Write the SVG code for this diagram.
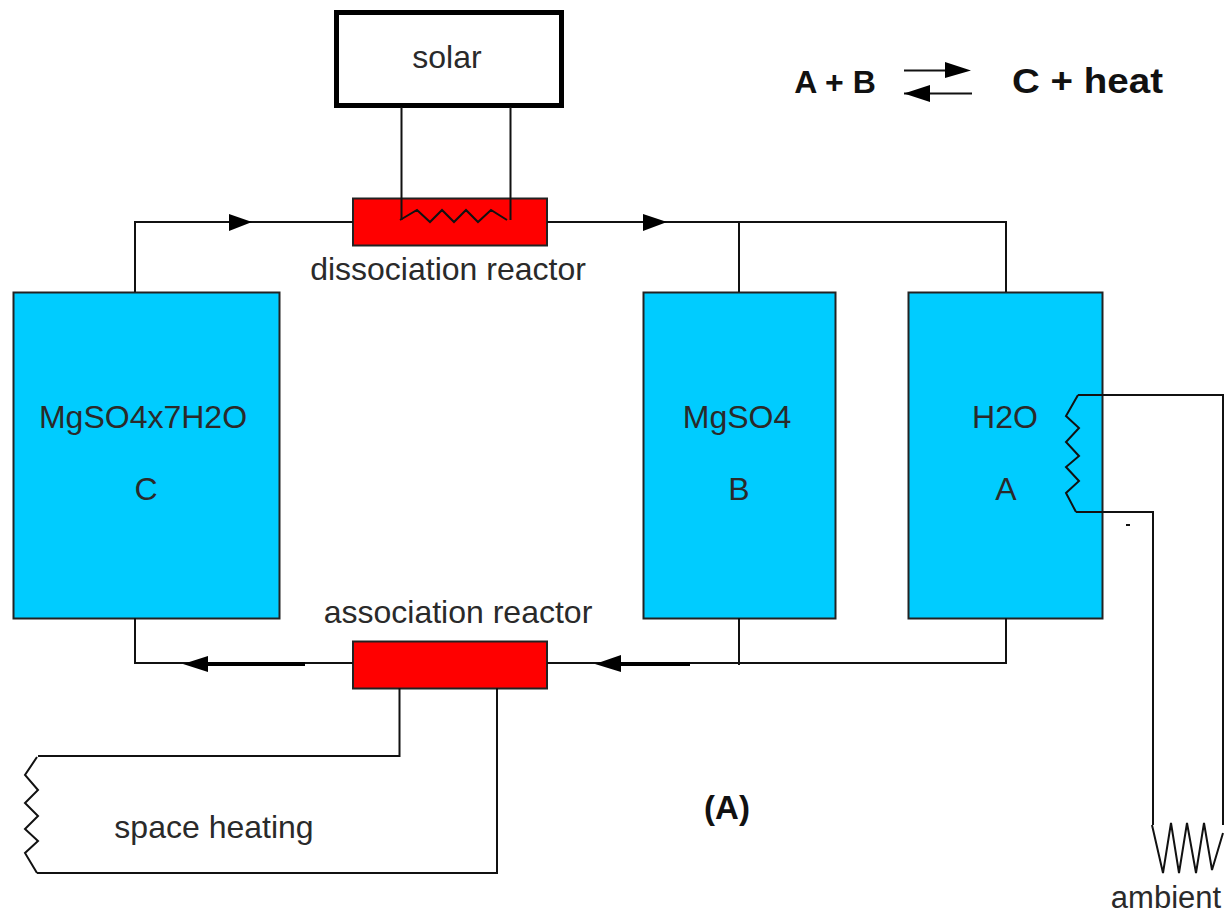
<svg xmlns="http://www.w3.org/2000/svg" width="1225" height="915" viewBox="0 0 1225 915">
<style>
text{font-family:"Liberation Sans",Arial,sans-serif;font-size:32px;fill:#2a2a2a;text-anchor:middle}
.b{font-weight:bold;fill:#111}
.tank{fill:#00ccff;stroke:#222;stroke-width:2}
.reactor{fill:#ff0000;stroke:#222;stroke-width:2}
.w{fill:none;stroke:#111;stroke-width:2}
.th{fill:none;stroke:#000;stroke-width:4}
.h{fill:#000;stroke:none}
</style>
<rect width="1225" height="915" fill="#fff"/>
<g id="node-solar"><rect x="336.500" y="12.500" width="225" height="93" fill="#fff" stroke="#000" stroke-width="5"/><text x="447" y="68">solar</text></g>
<g id="node-dissociation"><rect class="reactor" x="353" y="198.500" width="194" height="47"/>
<path class="w" stroke-width="1.500" d="M400 220L417 210L430 222L442 210L454 222L466 210L478 222L491 210L507 220"/>
<text x="448" y="280">dissociation reactor</text></g>
<g id="node-association"><rect class="reactor" x="353" y="641.500" width="194" height="47"/><text x="458" y="623">association reactor</text></g>
<g id="node-c"><rect class="tank" x="13.500" y="292.500" width="266" height="326"/><text x="143" y="428">MgSO4x7H2O</text><text x="146" y="500">C</text></g>
<g id="node-b"><rect class="tank" x="643.500" y="292.500" width="192" height="326"/><text x="737" y="428">MgSO4</text><text x="739" y="500">B</text></g>
<g id="node-a"><rect class="tank" x="908.500" y="292.500" width="194" height="326"/><text x="1005" y="428">H2O</text><text x="1006" y="500">A</text>
<path class="w" d="M1078 395L1066 416L1079 428L1066 442L1079 456L1066 467L1079 481L1066 493L1076 512"/></g>
<g id="node-space-heating"><path class="w" stroke-width="1.500" d="M37 757L25 775L38 790L25 803L38 816L25 829L38 841L25 853L37 873"/><text x="214" y="838">space heating</text></g>
<g id="node-ambient"><path class="w" d="M1152 825L1163 873L1171 823L1179 873L1187 823L1196 873L1204 823L1212 870L1223 833"/><text x="1166" y="908" style="font-size:31px">ambient</text></g>
<g id="connectors">
<path class="w" d="M401.500 107V220M510.500 107V220"/>
<path class="w" d="M135 292V222H353M547 222H1006V292M739 222V292"/>
<path class="w" d="M135 618V663H353M547 663H1006V618M739 618V665"/>
<path class="w" d="M1078 395H1223V825M1076 512H1153V825"/>
<path class="w" d="M399.500 688V756H38M497 688V873H37"/>
<path class="th" d="M208 664H305M621 664H690"/>
<path class="h" d="M229 214L252 222L229 231ZM643 214L667 222L643 231Z"/>
<path class="h" d="M183 664L208 656V672ZM595 664L621 655V672Z"/>
<path class="w" d="M904 70.500H945M904 93.500H972"/>
<path class="h" d="M945 62L971 70.500L945 78ZM904 93.500L930 85V102Z"/>
</g>
<g id="labels">
<rect x="1126" y="524" width="4" height="2" fill="#111"/>
<text class="b" x="727" y="819" style="font-size:33px">(A)</text>
<text class="b" x="835" y="93">A + B</text>
<text class="b" x="1087.500" y="93" style="font-size:35px" textLength="151" lengthAdjust="spacingAndGlyphs">C + heat</text>
</g>
</svg>
